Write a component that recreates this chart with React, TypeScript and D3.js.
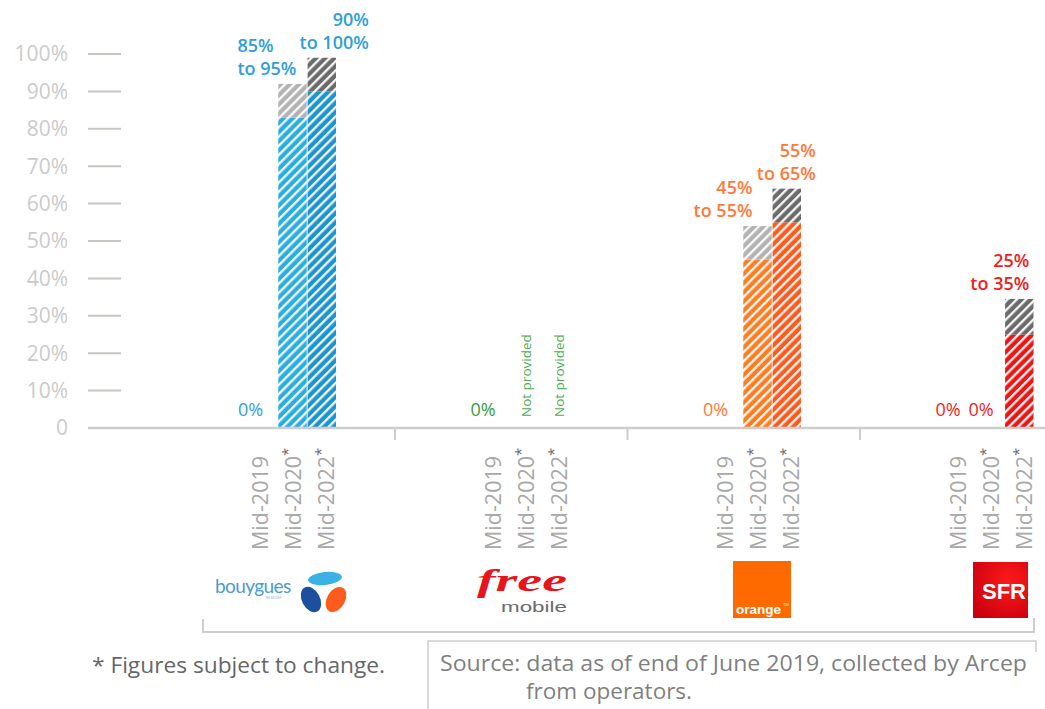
import React from "react";
import * as d3 from "d3";

const width = 1045;
const height = 709;

// chart data
const operators = ["Bouygues Telecom", "Free Mobile", "Orange", "SFR"];
const periods = ["Mid-2019", "Mid-2020", "Mid-2022"];
const subjectToChange = [false, true, true];
const lowValues: (number | null)[][] = [
  [0, 83, 90],
  [0, null, null],
  [0, 45, 55],
  [0, 0, 25],
];
const highValues: (number | null)[][] = [
  [0, 92, 99],
  [0, null, null],
  [0, 54, 64],
  [0, 0, 34.5],
];
const valueLabels = [
  ["0%", "85%|to 95%", "90%|to 100%"],
  ["0%", "Not provided", "Not provided"],
  ["0%", "45%|to 55%", "55%|to 65%"],
  ["0%", "0%", "25%|to 35%"],
];
const yTicks = [0, 10, 20, 30, 40, 50, 60, 70, 80, 90, 100];

const font = "'Open Sans', 'Noto Sans', sans-serif";

const opStyle = [
  { text: "#2e9fd8", low: ["#2aaee2", "#2aaee2", "#1c94d2"], high: ["#b3b3b3", "#b3b3b3", "#6b6b6b"] },
  { text: "#3a9c3a", low: ["#3a9c3a", "#3a9c3a", "#3a9c3a"], high: ["#b3b3b3", "#b3b3b3", "#6b6b6b"] },
  { text: "#ff7a3a", low: ["#ff7d22", "#ff7d22", "#ff5a1e"], high: ["#b3b3b3", "#b3b3b3", "#6b6b6b"] },
  { text: "#f01e1e", low: ["#f21818", "#f21818", "#ee1515"], high: ["#b3b3b3", "#b3b3b3", "#6b6b6b"] },
];

// manual placement of the range labels (relative to bar centre)
const rangeLabelPlace: Record<string, { anchor: string; dx: number }> = {
  "0|1": { anchor: "start", dx: -55 },
  "0|2": { anchor: "end", dx: 47 },
  "2|1": { anchor: "end", dx: -5 },
  "2|2": { anchor: "end", dx: 29 },
  "3|2": { anchor: "end", dx: 10 },
};

const y = d3.scaleLinear().domain([0, 100]).range([428, 54]);
const groupX = d3.scaleBand<string>().domain(operators).range([162.5, 1092.5]);
const barX = d3.scaleBand<string>().domain(periods).range([86.5, 173.5]).paddingInner(0.03);
const labelX = d3.scalePoint<string>().domain(periods).range([98, 164]);

const hatchId = (c: string) => "hatch" + c.replace("#", "");

function Hatch({ color }: { color: string }) {
  return (
    <pattern id={hatchId(color)} patternUnits="userSpaceOnUse" width={6.5} height={6.5} patternTransform="rotate(45)">
      <rect width={6.5} height={6.5} fill={color} />
      <line x1={1.2} y1={0} x2={1.2} y2={6.5} stroke="#fff" strokeWidth={2.2} />
    </pattern>
  );
}

function BouyguesLogo({ x }: { x: number }) {
  return (
    <g transform={`translate(${x},0)`}>
      <text x={0} y={593} fontFamily="Lato, sans-serif" fontSize={19} fill="#4a9bd5" letterSpacing={-0.6}>bouygues</text>
      <text x={50} y={599} fontFamily="Lato, sans-serif" fontSize={3.5} fill="#9ab">TELECOM</text>
      <ellipse cx={110} cy={578.5} rx={17} ry={6.5} fill="#3bb1e8" transform="rotate(-6 110 578.5)" />
      <ellipse cx={96} cy={599.5} rx={9} ry={13.5} fill="#1c4f9e" transform="rotate(-28 96 599.5)" />
      <ellipse cx={121} cy={599.5} rx={9} ry={13.5} fill="#ff5b1c" transform="rotate(30 121 599.5)" />
    </g>
  );
}

function FreeLogo({ x }: { x: number }) {
  return (
    <g transform={`translate(${x},0)`}>
      <text x={0} y={591} fontFamily="'Liberation Serif', serif" fontStyle="italic" fontWeight="bold" fontSize={32}
        fill="#e8141b" textLength={90} lengthAdjust="spacingAndGlyphs">free</text>
      <text x={24} y={612} fontFamily="'Liberation Sans', sans-serif" fontSize={14} fill="#6b6b6b"
        textLength={66} lengthAdjust="spacingAndGlyphs">mobile</text>
    </g>
  );
}

function OrangeLogo({ x }: { x: number }) {
  return (
    <g transform={`translate(${x},0)`}>
      <rect x={0} y={561} width={58} height={57} fill="#ff6a00" />
      <text x={3} y={614} fontFamily="'Liberation Sans', sans-serif" fontWeight="bold" fontSize={13.5} fill="#fff">orange</text>
      <text x={50} y={606} fontFamily="'Liberation Sans', sans-serif" fontSize={4} fill="#fff">TM</text>
    </g>
  );
}

function SfrLogo({ x }: { x: number }) {
  return (
    <g transform={`translate(${x},0)`}>
      <defs>
        <radialGradient id="sfrGrad" cx="0.65" cy="0.35" r="0.8">
          <stop offset="0" stopColor="#ff1a1a" />
          <stop offset="1" stopColor="#c8000f" />
        </radialGradient>
      </defs>
      <rect x={0} y={562} width={55} height={56} fill="url(#sfrGrad)" />
      <text x={53} y={599} textAnchor="end" fontFamily="'Liberation Sans', sans-serif" fontWeight="bold" fontSize={22} fill="#fff">SFR</text>
    </g>
  );
}

export default function App() {
  const colors = Array.from(new Set(opStyle.flatMap((s) => [...s.low, ...s.high])));
  const logoOffsets = [52.5, 82, 105.5, 113];

  return (
    <svg width={width} height={height} style={{ display: "block", position: "absolute", left: 0, top: 0 }}>
      <defs>
        {colors.map((c) => (
          <Hatch key={c} color={c} />
        ))}
      </defs>
      <rect width={width} height={height} fill="#fff" />

      {/* y axis */}
      {yTicks.map((t) => (
        <g key={t}>
          <line x1={88} x2={121} y1={y(t)} y2={y(t)} stroke="#c9c6c2" strokeWidth={2} />
          <text x={68} y={y(t)} dy="0.35em" textAnchor="end" fontFamily={font} fontSize={21} fill="#cbcbcb">
            {t === 0 ? "0" : `${t}%`}
          </text>
        </g>
      ))}

      {/* bars */}
      {operators.map((op, i) =>
        periods.map((p, j) => {
          const lo = lowValues[i][j];
          const hi = highValues[i][j];
          if (lo == null || hi == null || hi <= 0) return null;
          const x0 = groupX(op)! + barX(p)!;
          const w = barX.bandwidth();
          return (
            <g key={op + p}>
              <rect x={x0} y={y(lo)} width={w} height={y(0) - y(lo)} fill={`url(#${hatchId(opStyle[i].low[j])})`} />
              <rect x={x0} y={y(hi)} width={w} height={y(lo) - y(hi)} fill={`url(#${hatchId(opStyle[i].high[j])})`} />
            </g>
          );
        })
      )}

      {/* baseline and group separators */}
      <line x1={88} x2={width} y1={y(0)} y2={y(0)} stroke="#cfcccc" strokeWidth={2.5} />
      {operators.slice(1).map((op) => (
        <line key={op} x1={groupX(op)!} x2={groupX(op)!} y1={y(0)} y2={440} stroke="#cfcccc" strokeWidth={2} />
      ))}

      {/* value labels */}
      {operators.map((op, i) =>
        periods.map((p, j) => {
          const lab = valueLabels[i][j];
          const col = opStyle[i].text;
          const cx = groupX(op)! + barX(p)! + barX.bandwidth() / 2;
          const lx = groupX(op)! + labelX(p)!;
          if (lab === "Not provided") {
            return (
              <text key={op + p} transform={`translate(${lx},417) rotate(-90)`} dy="0.35em" fontFamily={font}
                fontSize={13.5} fill="#4fae4f">{lab}</text>
            );
          }
          if (lab.includes("|")) {
            const [l1, l2] = lab.split("|");
            const place = rangeLabelPlace[`${i}|${j}`] || { anchor: "end", dx: 10 };
            const top = y(highValues[i][j] ?? 0);
            return (
              <text key={op + p} x={cx + place.dx} textAnchor={place.anchor} fontFamily={font} fontSize={18}
                fontWeight={600} fill={col}>
                <tspan x={cx + place.dx} y={top - 32}>{l1}</tspan>
                <tspan x={cx + place.dx} y={top - 9}>{l2}</tspan>
              </text>
            );
          }
          return (
            <text key={op + p} x={lx - 10} y={416} textAnchor="middle" fontFamily={font} fontSize={18} fill={col}>
              {lab}
            </text>
          );
        })
      )}

      {/* category labels */}
      {operators.map((op) =>
        periods.map((p, j) => (
          <text key={op + p} transform={`translate(${groupX(op)! + labelX(p)!},550) rotate(-90)`} dy="0.36em"
            fontFamily={font} fontSize={21.5} fill="#a8a8a8">
            {p}
            {subjectToChange[j] && (
              <tspan dy="-0.55em" fontSize={15} fill="#666">*</tspan>
            )}
          </text>
        ))
      )}

      {/* logos */}
      <BouyguesLogo x={groupX(operators[0])! + logoOffsets[0]} />
      <FreeLogo x={groupX(operators[1])! + logoOffsets[1]} />
      <OrangeLogo x={groupX(operators[2])! + logoOffsets[2]} />
      <SfrLogo x={groupX(operators[3])! + logoOffsets[3]} />

      {/* brackets and footnotes */}
      <path d="M203,619 V632 H1034 V618" fill="none" stroke="#cfcccc" strokeWidth={2} />
      <path d="M428,709 V641 H1036 V652" fill="none" stroke="#cfcccc" strokeWidth={1.5} />
      <text x={92} y={673} fontFamily={font} fontSize={21} fill="#666" textLength={293} lengthAdjust="spacingAndGlyphs">
        * Figures subject to change.
      </text>
      <text x={440} y={671} fontFamily={font} fontSize={21} fill="#7f7f7f" textLength={587} lengthAdjust="spacingAndGlyphs">
        Source: data as of end of June 2019, collected by Arcep
      </text>
      <text x={526} y={699} fontFamily={font} fontSize={21} fill="#7f7f7f" textLength={166} lengthAdjust="spacingAndGlyphs">
        from operators.
      </text>
    </svg>
  );
}
